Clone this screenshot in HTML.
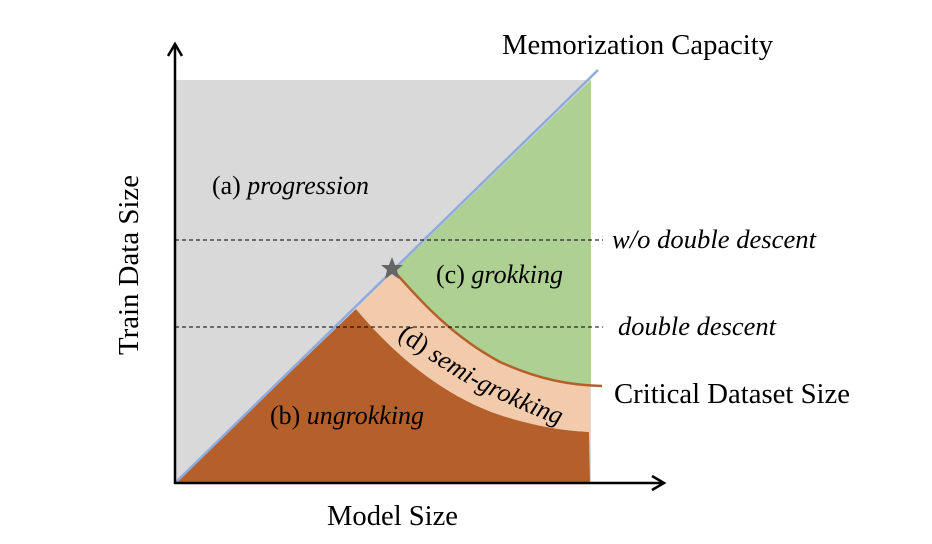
<!DOCTYPE html>
<html><head><meta charset="utf-8"><style>
html,body{margin:0;padding:0;background:#fff;}
svg{display:block;}
text{font-family:"Liberation Serif",serif;fill:#000;}
</style></head><body>
<svg width="932" height="544" viewBox="0 0 932 544">
<rect x="175" y="80" width="416" height="403" fill="#d9d9d9"/>
<path d="M175,483 L356,309 C390,350 440,395 500,415 C540,428 570,431 589,432 L590,483 Z" fill="#b5602a"/>
<path d="M356,309 L393,272 C420,300 450,335 500,362 C540,380 570,384 590,384 L590,432 C570,431 540,428 500,415 C440,395 390,350 356,309 Z" fill="#f2cbad"/>
<path d="M393,272 L591,80 L591,384 C570,384 540,380 500,362 C450,335 420,300 393,272 Z" fill="#aed093"/>
<path d="M393,270 C420,300 450,335 500,362 C540,380 570,385 602,386" fill="none" stroke="#b5602a" stroke-width="2.5"/>
<line x1="175" y1="483" x2="598" y2="70" stroke="#8faadc" stroke-width="2.5"/>
<line x1="175" y1="240" x2="603" y2="240" stroke="#000" stroke-width="1" stroke-dasharray="4,3"/>
<line x1="175" y1="327" x2="603" y2="327" stroke="#000" stroke-width="1" stroke-dasharray="4,3"/>
<line x1="175" y1="484" x2="175" y2="46" stroke="#000" stroke-width="2.5"/>
<path d="M168,56 L175,44 L182,56" fill="none" stroke="#000" stroke-width="2.5"/>
<line x1="174" y1="483" x2="662" y2="483" stroke="#000" stroke-width="2.5"/>
<path d="M652,476 L664,483 L652,490" fill="none" stroke="#000" stroke-width="2.5"/>
<polygon points="392,257 395,265 403,265 397,270 399,279 392,274 385,279 387,270 381,265 389,265" fill="#666"/>
<text x="502" y="54" font-size="28" textLength="271" lengthAdjust="spacingAndGlyphs">Memorization Capacity</text>
<text x="212" y="194" font-size="26" textLength="157" lengthAdjust="spacingAndGlyphs">(a) <tspan font-style="italic">progression</tspan></text>
<text x="436" y="283" font-size="26" textLength="127" lengthAdjust="spacingAndGlyphs">(c) <tspan font-style="italic">grokking</tspan></text>
<text x="270" y="424" font-size="26" textLength="154" lengthAdjust="spacingAndGlyphs">(b) <tspan font-style="italic">ungrokking</tspan></text>
<text x="612" y="248" font-size="26" textLength="204" lengthAdjust="spacingAndGlyphs" font-style="italic">w/o double descent</text>
<text x="618" y="335" font-size="26" textLength="158" lengthAdjust="spacingAndGlyphs" font-style="italic">double descent</text>
<text x="614" y="403" font-size="28" textLength="236" lengthAdjust="spacingAndGlyphs">Critical Dataset Size</text>
<text x="327" y="525" font-size="28" textLength="131" lengthAdjust="spacingAndGlyphs">Model Size</text>
<text transform="translate(138,355) rotate(-90)" font-size="28" textLength="180" lengthAdjust="spacingAndGlyphs">Train Data Size</text>
<path id="sg" d="M397,338 C430,360 465,385 500,400 C530,414 550,422 575,430" fill="none"/>
<text font-size="26"><textPath href="#sg">(d) <tspan font-style="italic">semi-grokking</tspan></textPath></text>
</svg>
</body></html>
